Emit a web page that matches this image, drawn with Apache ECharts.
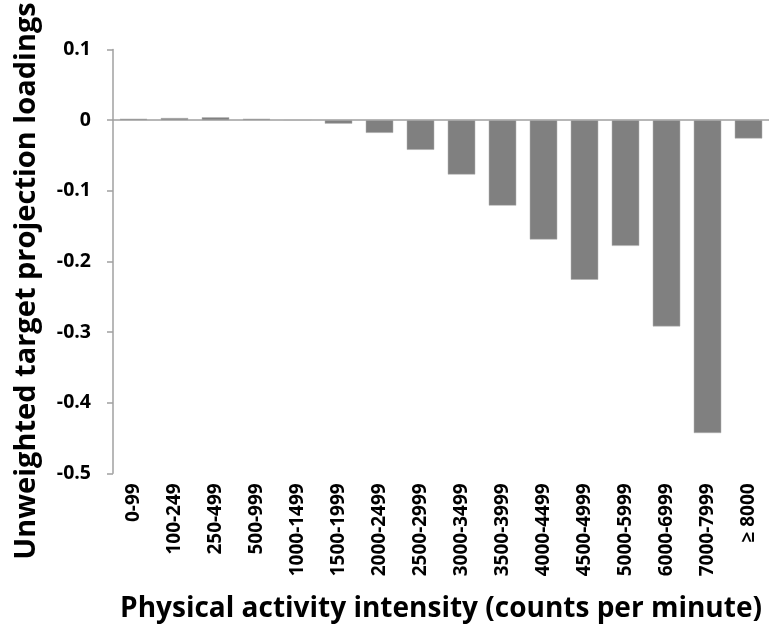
<!DOCTYPE html>
<html>
<head>
<meta charset="utf-8">
<script src="https://cdn.jsdelivr.net/npm/echarts@6/dist/echarts.min.js"></script>
<style>
html,body{margin:0;padding:0;background:#fff;}
#chart{width:769px;height:641px;}
</style>
</head>
<body>
<div id="chart"></div>
<script>
const categories = ['0-99','100-249','250-499','500-999','1000-1499','1500-1999','2000-2499','2500-2999','3000-3499','3500-3999','4000-4499','4500-4999','5000-5999','6000-6999','7000-7999','\u2265 8000'];
const loadings = [0.002, 0.003, 0.004, 0.002, 0, -0.005, -0.018, -0.042, -0.077, -0.121, -0.169, -0.226, -0.178, -0.292, -0.443, -0.026];
const yTicks = { min: -0.5, max: 0.1, interval: 0.1 };
const xTitle = 'Physical activity intensity (counts per minute)';
const yTitle = 'Unweighted target projection loadings';

const FONT = 'Open Sans';
const chart = echarts.init(document.getElementById('chart'));
chart.setOption({
  animation: false,
  backgroundColor: '#ffffff',
  grid: { left: 113, right: 0, top: 49.5, bottom: 167.7, containLabel: false },
  xAxis: [
    {
      type: 'category',
      data: categories,
      position: 'bottom',
      axisLine: { show: false, onZero: false },
      axisTick: { show: false },
      axisLabel: {
        rotate: 90, interval: 0, margin: 10,
        fontFamily: FONT, fontWeight: 'bold', fontSize: 19, color: '#000'
      }
    },
    {
      type: 'category',
      data: categories,
      position: 'bottom',
      axisLine: { show: true, onZero: true, lineStyle: { color: '#a0a0a0', width: 1.5 } },
      axisTick: { show: false },
      axisLabel: { show: false }
    }
  ],
  yAxis: {
    type: 'value',
    min: yTicks.min, max: yTicks.max, interval: yTicks.interval,
    axisLine: { show: true, lineStyle: { color: '#a0a0a0', width: 1.5 } },
    axisTick: { show: true, length: 6, lineStyle: { color: '#a0a0a0', width: 1.5 } },
    splitLine: { show: false },
    axisLabel: {
      margin: 22,
      fontFamily: FONT, fontWeight: 'bold', fontSize: 19.5, color: '#000',
      formatter: function (v) { return Math.abs(v) < 1e-9 ? '0' : v.toFixed(1); }
    }
  },
  series: [{
    type: 'bar',
    xAxisIndex: 0,
    data: loadings,
    barCategoryGap: '33%',
    itemStyle: { color: '#808080', borderColor: '#b0b0b0', borderWidth: 0.5 }
  }],
  graphic: [
    {
      type: 'text', x: 27, y: 281, rotation: Math.PI / 2,
      style: { text: yTitle, fontFamily: FONT, fontWeight: 'bold', fontSize: 29, fill: '#000', align: 'center', verticalAlign: 'middle' }
    },
    {
      type: 'text', x: 441, y: 609,
      style: { text: xTitle, fontFamily: FONT, fontWeight: 'bold', fontSize: 28, fill: '#000', align: 'center', verticalAlign: 'middle' }
    }
  ]
});
</script>
</body>
</html>
